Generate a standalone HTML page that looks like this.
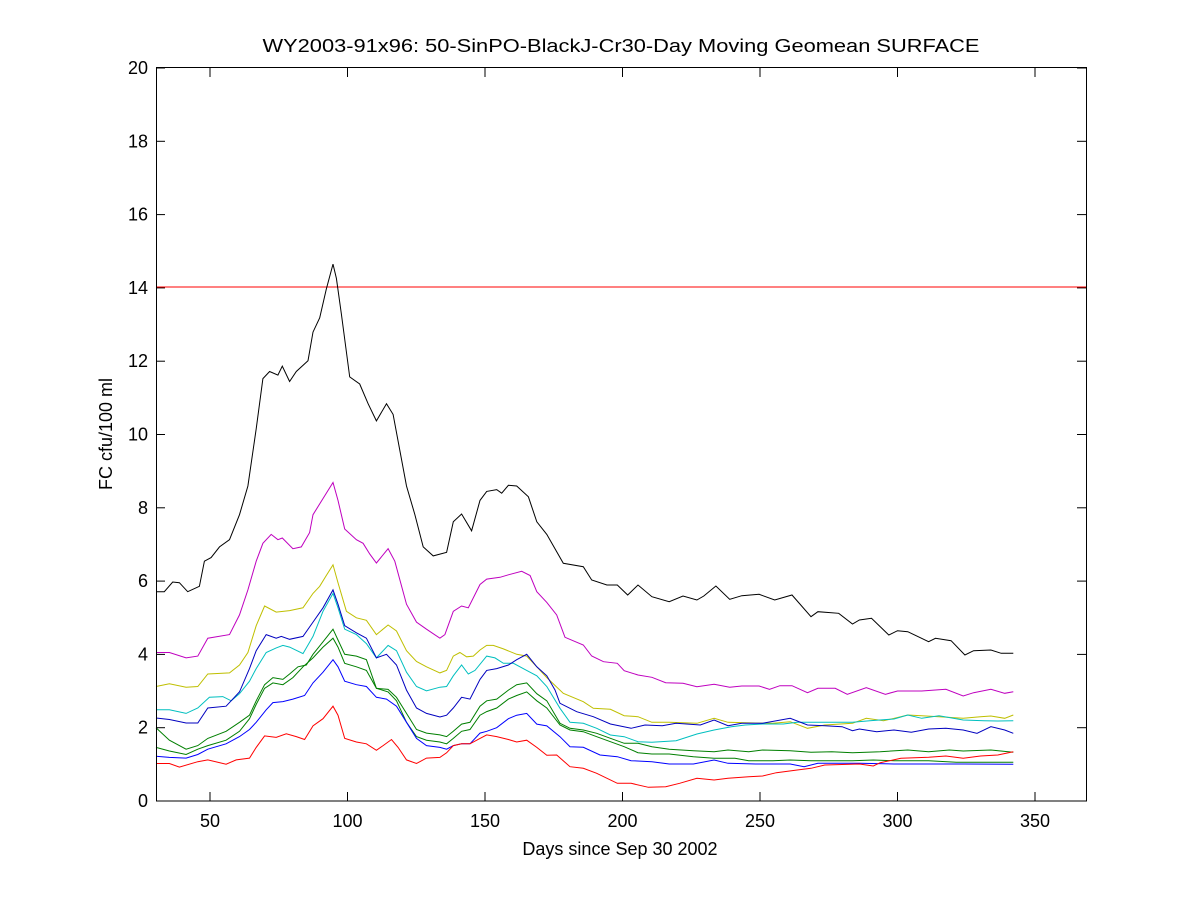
<!DOCTYPE html>
<html><head><meta charset="utf-8"><style>html,body{margin:0;padding:0;background:#fff}svg{display:block}text{font-family:"Liberation Sans",Arial,sans-serif;fill:#000}</style></head>
<body>
<svg id="s" width="1200" height="900" viewBox="0 0 1200 900" xmlns="http://www.w3.org/2000/svg">
<rect width="1200" height="900" fill="#fff"/>
<text x="621" y="52" font-size="18" text-anchor="middle" textLength="717" lengthAdjust="spacingAndGlyphs">WY2003-91x96: 50-SinPO-BlackJ-Cr30-Day Moving Geomean SURFACE</text>
<text x="620" y="855" font-size="18" text-anchor="middle">Days since Sep 30 2002</text>
<text transform="translate(112,434) rotate(-90)" font-size="18" text-anchor="middle">FC cfu/100 ml</text>
<g id="ax"></g>
<line x1="156" y1="287" x2="1086" y2="287" stroke="#ff0000" stroke-width="1"/>
<g id="ser" fill="none" stroke-width="1"></g>
<rect x="156.5" y="67.5" width="930" height="733.5" fill="none" stroke="#000" stroke-width="1"/>
</svg>
<script>
var NS="http://www.w3.org/2000/svg";
function el(t,a,p){var e=document.createElementNS(NS,t);for(var k in a)e.setAttribute(k,a[k]);p.appendChild(e);return e;}
var ax=document.getElementById('ax');
[50,100,150,200,250,300,350].forEach(function(d){var x=210+(d-50)*2.75;
el('line',{x1:x,y1:801,x2:x,y2:792,stroke:'#000'},ax);el('line',{x1:x,y1:68,x2:x,y2:77,stroke:'#000'},ax);
var t=el('text',{x:x,y:827,'font-size':18,'text-anchor':'middle'},ax);t.textContent=d;});
for(var v=0;v<=20;v+=2){var y=801-v*36.65;
el('line',{x1:156,y1:y,x2:165,y2:y,stroke:'#000'},ax);el('line',{x1:1086,y1:y,x2:1077,y2:y,stroke:'#000'},ax);
var t=el('text',{x:148,y:y+6,'font-size':18,'text-anchor':'end'},ax);t.textContent=v;}
function f1(a){var r=[];for(var i=0;i<a.length;i+=2){var px=156+(a[i]-20)*0.334,py=287+(a[i+1]-104)*0.358;if(px<551)r.push(px.toFixed(1)+','+py.toFixed(1));}return r;}
function f2(a){var r=[];for(var i=0;i<a.length;i+=2){var px=550+a[i]/3,py=550+a[i+1]/3;if(px>600)px=600+(px-600)*(413/398);if(px>=551)r.push(px.toFixed(1)+','+py.toFixed(1));}return r;}
var S=[
['#000000',[20,955,45,955,70,928,90,930,115,955,150,940,165,870,185,860,210,830,240,810,270,740,295,660,320,500,340,360,360,340,385,350,398,325,420,368,440,340,475,310,490,230,510,190,530,110,550,40,560,80,575,180,600,355,630,375,655,430,680,478,710,430,730,460,770,660,795,740,820,830,850,855,870,850,890,845,910,760,935,738,965,785,990,700,1010,675,1040,670,1055,680,1075,658,1100,660,1135,690,1160,760,1190,795,1215,805,1245,870,1265,885,1305,890,1330,930,1350,930],
[40,40,100,50,125,90,170,105,200,105,230,135,260,105,300,140,350,155,390,138,430,150,450,138,485,108,525,148,560,137,610,133,655,150,705,135,760,200,780,185,840,190,880,222,900,210,935,205,985,255,1010,242,1040,245,1070,260,1100,275,1120,265,1165,272,1205,315,1230,302,1280,300,1310,310,1345,310]],
['#bf00bf',[20,1125,60,1125,110,1140,145,1135,175,1085,240,1075,270,1020,295,950,320,870,340,820,365,795,385,810,398,805,430,835,455,830,480,790,490,740,510,710,530,680,550,650,565,700,585,780,620,810,640,820,660,850,680,875,715,835,735,870,770,990,800,1040,830,1060,870,1085,885,1075,910,1010,935,995,955,1000,990,935,1010,920,1050,915,1075,908,1115,898,1140,910,1160,955,1190,985,1220,1020,1245,1080,1270,1095,1310,1110,1350,1145],
[0,160,20,195,45,262,100,285,125,318,160,335,200,340,220,362,260,375,300,382,340,398,390,400,430,410,480,403,525,412,560,408,610,408,640,418,670,407,705,407,750,428,780,415,830,415,865,433,920,413,975,433,1010,423,1080,423,1150,418,1200,438,1230,428,1280,418,1320,430,1345,425]],
['#bfbf00',[20,1220,60,1212,110,1222,145,1220,175,1185,240,1182,270,1160,295,1125,320,1050,345,995,380,1012,420,1008,460,1000,490,960,510,940,530,910,550,880,565,930,590,1010,620,1028,650,1035,680,1075,715,1048,740,1065,770,1120,800,1150,830,1165,870,1182,890,1175,910,1135,930,1125,950,1137,970,1135,990,1118,1010,1105,1030,1105,1060,1115,1100,1130,1130,1135,1160,1165,1190,1195,1220,1210,1245,1245,1270,1255,1310,1265,1330,1280,1350,1280],
[0,380,40,430,100,455,130,475,180,478,220,497,260,500,300,517,350,517,430,520,480,505,520,517,600,519,650,520,700,515,750,535,800,525,880,520,920,505,970,512,1000,505,1040,495,1080,497,1130,500,1200,505,1250,500,1280,498,1320,505,1345,495]],
['#00bfbf',[20,1285,60,1285,110,1295,145,1280,180,1250,220,1248,245,1260,270,1240,300,1205,320,1170,350,1125,380,1112,400,1105,420,1110,460,1128,490,1080,520,1010,550,960,565,1000,585,1060,620,1075,650,1100,680,1140,715,1105,740,1120,770,1180,800,1220,830,1232,870,1222,890,1220,910,1190,935,1160,955,1185,975,1175,1010,1135,1035,1140,1060,1155,1090,1155,1130,1175,1160,1190,1190,1220,1220,1240,1245,1300,1270,1320,1310,1335,1350,1345],
[0,430,30,475,60,517,100,520,140,535,180,555,220,560,260,575,300,577,370,572,430,552,480,540,530,530,570,525,620,522,680,522,720,517,760,517,820,517,880,517,930,512,1000,507,1040,495,1080,505,1130,497,1200,510,1260,512,1300,513,1345,512]],
['#0000bf',[20,1308,60,1312,110,1322,145,1322,175,1280,230,1275,270,1235,300,1170,320,1120,350,1075,380,1085,395,1080,420,1088,460,1080,490,1040,520,1000,550,950,565,990,585,1050,620,1070,650,1085,680,1140,710,1130,740,1160,770,1230,800,1280,830,1295,870,1305,890,1300,910,1280,935,1250,960,1255,990,1200,1010,1175,1040,1170,1075,1160,1100,1145,1130,1130,1160,1165,1190,1190,1215,1200,1245,1250,1270,1280,1310,1295,1350,1310],
[0,380,15,420,30,460,80,485,130,500,180,522,240,535,280,525,330,527,370,520,440,525,480,510,520,527,560,520,620,520,700,505,750,525,800,527,850,530,880,542,900,537,950,545,1000,540,1050,547,1100,537,1150,535,1200,540,1240,550,1280,530,1320,540,1345,550]],
['#007f00',[20,1335,60,1370,110,1395,145,1385,175,1365,230,1345,270,1320,300,1300,320,1260,345,1215,370,1195,400,1200,420,1185,445,1165,470,1160,490,1130,520,1095,550,1060,565,1090,585,1130,620,1135,650,1145,680,1225,715,1228,740,1250,770,1295,800,1340,830,1350,870,1355,890,1360,910,1345,935,1325,960,1320,990,1275,1010,1260,1040,1255,1075,1230,1100,1215,1130,1210,1160,1240,1190,1260,1220,1290,1245,1330,1270,1345,1310,1350,1350,1360],
[0,455,30,520,60,535,100,540,140,550,180,565,220,580,260,580,300,590,350,598,420,602,480,605,520,600,580,605,620,600,700,602,760,607,820,605,880,608,960,605,1040,600,1100,605,1160,600,1200,603,1280,600,1345,607]],
['#007f00',[20,1390,60,1400,110,1410,145,1395,175,1385,230,1370,270,1345,300,1310,320,1270,345,1225,370,1210,400,1215,430,1195,460,1165,490,1140,520,1110,550,1085,565,1110,585,1155,620,1165,650,1175,680,1225,715,1235,740,1260,770,1320,800,1360,830,1370,870,1375,890,1380,910,1365,935,1345,960,1340,990,1300,1010,1290,1040,1280,1075,1255,1100,1245,1130,1235,1160,1260,1190,1280,1220,1300,1245,1340,1270,1350,1310,1360,1350,1380],
[0,465,30,525,60,540,100,545,140,560,180,575,220,590,260,608,300,612,350,612,420,620,480,625,540,625,580,632,650,632,700,630,760,632,880,632,940,630,1000,632,1100,632,1180,637,1250,637,1345,637]],
['#0000ff',[20,1415,60,1418,110,1420,145,1410,175,1395,230,1380,270,1360,300,1340,320,1320,350,1285,370,1265,400,1262,430,1255,465,1245,490,1210,520,1180,550,1145,565,1165,585,1205,620,1215,650,1220,680,1250,710,1255,740,1275,770,1320,800,1365,830,1385,870,1390,890,1395,910,1385,935,1380,960,1380,990,1350,1010,1345,1040,1335,1075,1310,1100,1300,1130,1295,1160,1325,1190,1330,1220,1340,1245,1385,1270,1390,1310,1400,1350,1410],
[0,530,30,560,60,590,100,592,150,615,200,620,240,632,300,635,350,642,420,642,480,630,520,640,600,642,700,642,740,650,780,640,900,640,1000,642,1100,642,1200,642,1345,643]],
['#ff0000',[20,1435,60,1435,90,1445,145,1430,175,1425,230,1437,260,1425,300,1420,320,1390,345,1358,380,1362,410,1352,440,1360,465,1368,490,1330,520,1310,550,1275,565,1300,585,1365,620,1375,650,1380,680,1398,700,1385,725,1368,745,1390,770,1425,800,1435,830,1420,870,1418,890,1405,910,1385,935,1380,960,1380,990,1365,1010,1355,1040,1360,1075,1368,1100,1375,1130,1370,1160,1390,1190,1412,1220,1415,1245,1440,1270,1460,1300,1450,1330,1460,1350,1470],
[0,612,20,615,60,650,100,655,140,670,200,700,240,700,290,712,340,710,380,700,430,685,480,690,520,685,580,680,620,678,660,668,720,660,760,655,800,645,900,642,940,648,960,638,1020,625,1100,622,1150,618,1200,625,1250,618,1300,615,1345,605]]
];
var g=document.getElementById('ser');
S.forEach(function(s){var pts=f1(s[1]).concat(f2(s[2]));el('polyline',{points:pts.join(' '),stroke:s[0]},g);});
</script>
</body></html>
